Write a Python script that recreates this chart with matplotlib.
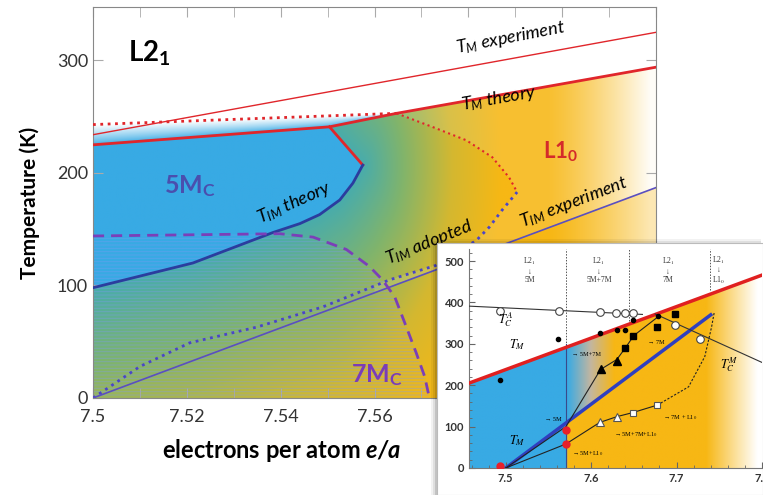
import numpy as np
import matplotlib.pyplot as plt
from matplotlib.path import Path
from matplotlib.patches import PathPatch, Rectangle
from matplotlib.ticker import MultipleLocator

plt.rcParams['font.family'] = ['Lato', 'DejaVu Sans']
plt.rcParams['mathtext.fontset'] = 'custom'
plt.rcParams['mathtext.rm'] = 'Lato'
plt.rcParams['mathtext.it'] = 'Lato:italic'
plt.rcParams['mathtext.bf'] = 'Lato:bold'
plt.rcParams['mathtext.bfit'] = 'Lato:italic:bold'
plt.rcParams['hatch.linewidth'] = 0.7

# ---- main diagram lines (e/a, temperature in K) ----
tm_exp_x = [7.5, 7.62]
tm_exp_t = [234, 325]
tm_theory_x = [7.5, 7.5504, 7.5647, 7.62]
tm_theory_t = [225, 241, 253, 294]
tm_dot_x = [7.5, 7.5647]
tm_dot_t = [243, 253]
l10_dot_x = [7.5647, 7.5723, 7.5796, 7.5851, 7.5887, 7.5904]
l10_dot_t = [253, 241, 229, 214, 196, 183]
edge5m_x = [7.5504, 7.5575]
edge5m_t = [241, 207]
tim_theory_x = [7.5, 7.5213, 7.5383, 7.5441, 7.5483, 7.5526, 7.5554, 7.5575]
tim_theory_t = [98, 120, 147, 155, 163, 176, 191, 207]
tim_adopted_x = [7.5, 7.51, 7.5206, 7.5349, 7.549, 7.5632, 7.5732, 7.5817, 7.5845, 7.5872, 7.5904]
tim_adopted_t = [0, 28, 49, 63, 81, 105, 118, 140, 152, 167, 183]
tim_exp_x = [7.5, 7.62]
tim_exp_t = [0, 187]
m7_x = [7.5, 7.5398, 7.5469, 7.554, 7.5589, 7.5617, 7.5643, 7.5668, 7.5689, 7.5707, 7.5717]
m7_t = [144, 146, 143, 132, 117, 105, 90, 63, 40, 19, 0]

main_xticks = [7.5, 7.52, 7.54, 7.56, 7.58, 7.6, 7.62]
# labels right of 7.56 sit under the inset
main_xlabels = ['7.5', '7.52', '7.54', '7.56', '', '', '']
main_yticks = [0, 100, 200, 300]

# ---- inset (experimental diagram) ----
ins_red_x = [7.457, 7.8]
ins_red_t = [205, 466]
ins_blue_x = [7.5, 7.74]
ins_blue_t = [0, 370]
tca_x = [7.457, 7.66]
tca_t = [391, 371]
tcm_x = [7.675, 7.8]
tcm_t = [372, 255]
upper_x = [7.5, 7.5705, 7.611, 7.63, 7.64, 7.65, 7.68]
upper_t = [0, 100, 238, 262, 290, 320, 368]
lower_x = [7.5, 7.5705, 7.61, 7.63, 7.649, 7.6775]
lower_t = [0, 58, 110, 124, 134, 152]
lower_dash_x = [7.6775, 7.714, 7.733, 7.741, 7.744]
lower_dash_t = [152, 196, 269, 341, 375]
open_circ_x = [7.493, 7.562, 7.610, 7.629, 7.640, 7.649, 7.6985, 7.7275]
open_circ_t = [380, 380, 378, 375, 374, 374, 345, 311]
filled_sq_x = [7.6395, 7.649, 7.6775, 7.6977]
filled_sq_t = [289, 320, 341, 372]
small_dot_x = [7.493, 7.5608, 7.610, 7.630, 7.6395, 7.649, 7.678]
small_dot_t = [212, 311, 325, 333, 333, 357, 368]
filled_tri_x = [7.611, 7.630]
filled_tri_t = [238, 259]
open_tri_x = [7.610, 7.630]
open_tri_t = [110, 124]
open_sq_x = [7.649, 7.6775]
open_sq_t = [134, 152]
red_pt_x = [7.493, 7.5705, 7.5705]
red_pt_t = [5, 92, 58]
vline_x = [7.5705, 7.644, 7.739]
vline_bottom = [0, 355, 430]
top_label_x = [7.528, 7.609, 7.69, 7.749]
top_label_txt = ['L2$_1$\n\u2193\n5M', 'L2$_1$\n\u2193\n5M+7M', 'L2$_1$\n\u2193\n7M', 'L2$_1$\n\u2193\nL1$_0$']

BLUE = np.array([56, 170, 228]) / 255
WHITE = np.ones(3)


def ramp(s, stops):
    pos = [p for p, _ in stops]
    cols = np.array([c for _, c in stops]) / 255
    return np.stack([np.interp(s, pos, cols[:, k]) for k in range(3)], axis=-1)


def blend(rgb, col, w):
    return rgb * (1 - w[..., None]) + col * w[..., None]


def inside(px, py, vx, vy):
    pts = np.column_stack([px.ravel(), py.ravel()])
    return Path(np.column_stack([vx, vy])).contains_points(pts).reshape(px.shape)


def poly_distance(px, py, vx, vy):
    d = np.full(px.shape, np.inf)
    for i in range(len(vx)):
        ax_, ay_, bx_, by_ = vx[i - 1], vy[i - 1], vx[i], vy[i]
        dx, dy = bx_ - ax_, by_ - ay_
        t = np.clip(((px - ax_) * dx + (py - ay_) * dy) / (dx * dx + dy * dy), 0, 1)
        d = np.minimum(d, np.hypot(px - ax_ - t * dx, py - ay_ - t * dy))
    d[inside(px, py, vx, vy)] = 0
    return d


fig = plt.figure(figsize=(7.63, 4.95), dpi=100)
ax = fig.add_axes([93 / 763, 97 / 495, 563 / 763, 391 / 495])

# colour field of the main diagram
gx = np.linspace(7.5, 7.62, 480)
gt = np.linspace(0, 350, 420)
X, T = np.meshgrid(gx, gt)


def sx(x):
    return (np.asarray(x, dtype=float) - 7.5) / 0.12 * 563


def sy(t):
    return np.asarray(t, dtype=float) * 1.125 * 0.5


m5_x = tm_theory_x[:2] + edge5m_x[1:] + tim_theory_x[::-1][1:]
m5_t = tm_theory_t[:2] + edge5m_t[1:] + tim_theory_t[::-1][1:]
d = poly_distance(sx(X), sy(T), sx(m5_x), sy(m5_t))
s = np.clip(0.3 + 0.005 * d, 0, 1)
s[d == 0] = 0
rgb = ramp(s, [(0, (56, 170, 228)), (0.3, (72, 172, 172)), (0.5, (128, 180, 108)),
               (0.75, (212, 184, 48)), (1, (247, 183, 20))])

red_line = np.interp(X, tm_theory_x, tm_theory_t)
dot_line = np.interp(X, tm_dot_x, tm_dot_t)
strip = (X < 7.5647) & (T > red_line)
w = np.clip((T - red_line) / (dot_line - red_line), 0, 1) ** 0.8
rgb[strip] = blend(np.tile(BLUE, (strip.sum(), 1)), WHITE, w[strip])

mart_x = tm_dot_x + l10_dot_x[1:] + tim_adopted_x[::-1][1:]
mart_t = tm_dot_t + l10_dot_t[1:] + tim_adopted_t[::-1][1:]
l10 = (~inside(X, T, mart_x, mart_t)) & (X > 7.56)
above = T > np.interp(X, tim_exp_x, tim_exp_t)
wl = 0.85 * np.clip((X - 7.597) / 0.022, 0, 1) ** 1.3
wl = np.where(above, 0.12 + wl, 0.8 * wl)
rgb[l10] = blend(rgb[l10], WHITE, wl[l10])

clip = PathPatch(Path([(7.5, 0), (7.5, tm_dot_t[0]), (tm_dot_x[1], tm_dot_t[1]),
                       (tm_theory_x[-1], tm_theory_t[-1]), (7.62, 0), (7.5, 0)]),
                 transform=ax.transData, facecolor='none', edgecolor='none')
ax.add_patch(clip)
im = ax.imshow(rgb, extent=[7.5, 7.62, 0, 350], origin='lower', aspect='auto',
               interpolation='bilinear', zorder=1)
im.set_clip_path(clip)

# striped 7M region
stripes = PathPatch(Path(list(zip([7.5] + m7_x, [0] + m7_t))), facecolor='none',
                    edgecolor=(0.5, 0.6, 0.95, 0.4), lw=0, hatch='-----', zorder=2)
ax.add_patch(stripes)

ax.plot(tm_exp_x, tm_exp_t, color='#e0262b', lw=1, zorder=3)
ax.plot(tm_theory_x, tm_theory_t, color='#e0262b', lw=2, zorder=3)
ax.plot(edge5m_x, edge5m_t, color='#e0262b', lw=2, zorder=3)
ax.plot(tm_dot_x, tm_dot_t, color='#e0262b', lw=2, ls=':', zorder=3)
ax.plot(l10_dot_x, l10_dot_t, color='#e0262b', lw=1.5, ls=':', zorder=3)
ax.plot(tim_theory_x, tim_theory_t, color='#2b3d9e', lw=2, zorder=3)
ax.plot(tim_adopted_x, tim_adopted_t, color='#4a45c8', lw=2, ls=':', zorder=3)
ax.plot(tim_exp_x, tim_exp_t, color='#5a4fc0', lw=1.2, zorder=3)
ax.plot(m7_x, m7_t, color='#7b3fb8', lw=2, ls=(0, (4, 2.5)), zorder=3)

ax.text(7.5121, 306, r'$\mathbf{L2_1}$', fontsize=20, ha='center', va='center', zorder=4)
ax.text(7.5206, 188, r'$\mathbf{5M_C}$', fontsize=18, color='#4a4fae', ha='center', va='center', zorder=4)
ax.text(7.5604, 20, r'$\mathbf{7M_C}$', fontsize=18, color='#7a3db8', ha='center', va='center', zorder=4)
ax.text(7.5996, 219, r'$\mathbf{L1_0}$', fontsize=16, color='#d42a2a', ha='center', va='center', zorder=4)
ax.text(7.589, 320, r'$T_M$ experiment', fontsize=13, style='italic', rotation=11, ha='center', va='center', zorder=4)
ax.text(7.5866, 266, r'$T_M$ theory', fontsize=13, style='italic', rotation=10, ha='center', va='center', zorder=4)
ax.text(7.6025, 174, r'$T_{IM}$ experiment', fontsize=13, style='italic', rotation=21, ha='center', va='center', zorder=4)
ax.text(7.5717, 138, r'$T_{IM}$ adopted', fontsize=13, style='italic', rotation=22, ha='center', va='center', zorder=4)
ax.text(7.543, 174, r'$T_{IM}$ theory', fontsize=13, style='italic', rotation=24, ha='center', va='center', zorder=4)

ax.set_xlim(7.5, 7.62)
ax.set_ylim(0, 347.5)
ax.set_xticks(main_xticks)
ax.set_xticklabels(main_xlabels)
ax.xaxis.set_minor_locator(MultipleLocator(0.01))
ax.set_yticks(main_yticks)
ax.tick_params(which='both', direction='in', length=7, color='#aaaaaa', top=True, right=True,
               labelsize=13, labelcolor='#333333')
ax.tick_params(axis='x', pad=8)
for sp in ax.spines.values():
    sp.set_color('#888888')
ax.set_xlabel(r'electrons per atom $\mathbfit{e/a}$', fontsize=17, fontweight='bold')
ax.xaxis.set_label_coords(0.334, -0.1)
ax.set_ylabel('Temperature (K)', fontsize=15, fontweight='bold')
ax.yaxis.set_label_coords(-0.095, 0.5)

# ---- inset panel ----
for k, a in enumerate([0.05, 0.08, 0.12]):
    fig.patches.append(Rectangle(((437 - 6 + 2 * k) / 763, 0), (330 - 2 * k) / 763, (252 + 4 - 2 * k) / 495,
                                 transform=fig.transFigure, facecolor='black', alpha=a,
                                 edgecolor='none', zorder=3))
fig.patches.append(Rectangle((437 / 763, 0), 326 / 763, 252 / 495, transform=fig.transFigure,
                             facecolor='white', edgecolor='#bbbbbb', lw=0.8, zorder=4))
ins = fig.add_axes([469 / 763, 27 / 495, 293 / 763, 219.4 / 495], zorder=5)
ins.patch.set_alpha(0)

ix = np.linspace(7.457, 7.8, 400)
it = np.linspace(0, 530, 300)
IX, IT = np.meshgrid(ix, it)
si = np.clip((IX - 7.572) / 0.055, 0, 1)
si[(IX > 7.572) & (IT < np.interp(IX, ins_blue_x, ins_blue_t))] = 1
irgb = ramp(si, [(0, (56, 170, 228)), (0.5, (195, 182, 160)), (1, (247, 183, 20))])
irgb = blend(irgb, WHITE, np.clip((IX - 7.735) / 0.06, 0, 1))
iclip = PathPatch(Path([(7.457, 0), (7.457, ins_red_t[0]), (7.8, ins_red_t[1]), (7.8, 0), (7.457, 0)]),
                  transform=ins.transData, facecolor='none', edgecolor='none')
ins.add_patch(iclip)
iim = ins.imshow(irgb, extent=[7.457, 7.8, 0, 530], origin='lower', aspect='auto',
                 interpolation='bilinear', zorder=1)
iim.set_clip_path(iclip)

for xv, yb in zip(vline_x, vline_bottom):
    ins.plot([xv, xv], [yb, 530], color='#555555', lw=0.7, ls=(0, (1.5, 1.5)), zorder=2)
ins.plot([vline_x[0], vline_x[0]], [0, 300], color='#3a4a8a', lw=0.8, zorder=2)
ins.plot(ins_red_x, ins_red_t, color='#e02020', lw=2.5, zorder=3)
ins.plot(ins_blue_x, ins_blue_t, color='#2f3fbf', lw=2.5, zorder=3)
ins.plot(tca_x, tca_t, color='#333333', lw=0.8, zorder=3)
ins.plot(tcm_x, tcm_t, color='#333333', lw=0.8, zorder=3)
ins.plot(upper_x, upper_t, color='#222222', lw=0.8, zorder=3)
ins.plot(lower_x, lower_t, color='#222222', lw=0.8, zorder=3)
ins.plot(lower_dash_x, lower_dash_t, color='#222222', lw=0.8, ls=(0, (2, 1.5)), zorder=3)
ins.plot(open_circ_x, open_circ_t, 'o', ms=5.5, mfc='white', mec='#444444', mew=0.8, zorder=4)
ins.plot(filled_sq_x, filled_sq_t, 's', ms=5, color='black', zorder=4)
ins.plot(small_dot_x, small_dot_t, 'o', ms=3, color='black', zorder=4)
ins.plot(filled_tri_x, filled_tri_t, '^', ms=6, color='black', zorder=4)
ins.plot(open_tri_x, open_tri_t, '^', ms=6, mfc='white', mec='#555555', mew=0.8, zorder=4)
ins.plot(open_sq_x, open_sq_t, 's', ms=5, mfc='white', mec='#555555', mew=0.8, zorder=4)
ins.plot(red_pt_x, red_pt_t, 'o', ms=5, color='#e8202a', zorder=4)

serif = ['Liberation Serif', 'DejaVu Sans']
for xv, txt in zip(top_label_x, top_label_txt):
    ins.text(xv, 478, txt, fontsize=5.5, family=serif, ha='center', va='center',
             linespacing=1.05, math_fontfamily='stix', color='#333333', zorder=5)
ins.text(7.4995, 358, r'$T_C^A$', fontsize=9, math_fontfamily='stix', ha='center', va='center', zorder=5)
ins.text(7.514, 297, r'$T_M$', fontsize=9, math_fontfamily='stix', ha='center', va='center', zorder=5)
ins.text(7.514, 66, r'$T_M$', fontsize=9, math_fontfamily='stix', ha='center', va='center', zorder=5)
ins.text(7.761, 250, r'$T_C^M$', fontsize=9, math_fontfamily='stix', ha='center', va='center', zorder=5)
ann = [(7.578, 273, '\u2192 5M+7M', 'left'), (7.566, 116, '\u2192 5M', 'right'),
       (7.667, 302, '\u2192 7M', 'left'), (7.684, 123, '\u2192 7M + L1$_0$', 'left'),
       (7.627, 80, '\u2192 5M+7M+L1$_0$', 'left'), (7.578, 36, '\u2192 5M+L1$_0$', 'left')]
for xv, yv, txt, ha in ann:
    ins.text(xv, yv, txt, fontsize=4.5, family=serif, math_fontfamily='stix', ha=ha, va='center', zorder=5)

ins.set_xlim(7.457, 7.8)
ins.set_ylim(0, 530)
ins.set_xticks([7.5, 7.6, 7.7, 7.8])
ins.set_xticklabels(['7.5', '7.6', '7.7', '7.8'])
ins.set_yticks([0, 100, 200, 300, 400, 500])
ins.xaxis.set_minor_locator(MultipleLocator(0.02))
ins.yaxis.set_minor_locator(MultipleLocator(20))
ins.tick_params(which='both', direction='in', color='#666666', labelsize=8, labelcolor='#333333')
ins.tick_params(which='major', length=4)
ins.tick_params(which='minor', length=2)
for lab in ins.get_xticklabels() + ins.get_yticklabels():
    lab.set_fontweight('bold')
ins.spines['top'].set_visible(False)
ins.spines['right'].set_visible(False)
for sp in ['left', 'bottom']:
    ins.spines[sp].set_color('#777777')
    ins.spines[sp].set_linewidth(0.8)

plt.savefig('out.png', dpi=100)
